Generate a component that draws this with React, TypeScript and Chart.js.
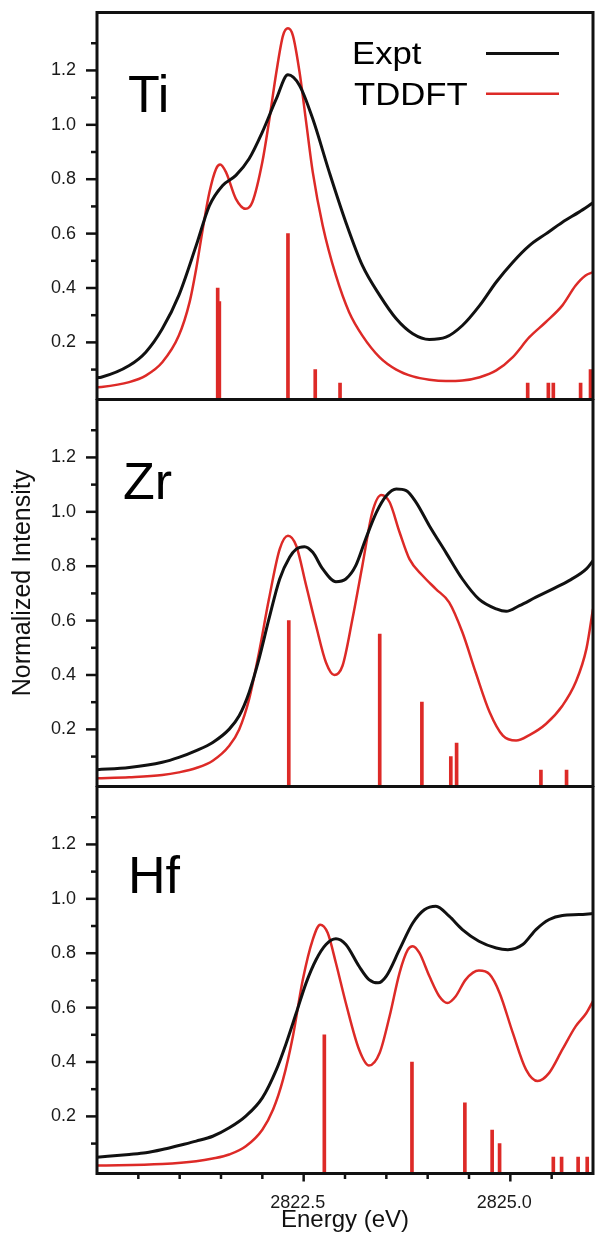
import React, { useEffect, useRef } from 'react';
import { Chart, registerables } from 'chart.js';

Chart.register(...registerables);

type Pt = [number, number];

// ---------- axes ----------
const X_MIN = 2820;
const X_MAX = 2826;
const Y_MIN = -0.01;
const Y_MAX = 1.413;
const X_TICKS = [2820.5, 2821, 2821.5, 2822, 2822.5, 2823, 2823.5, 2824, 2824.5, 2825, 2825.5];
const X_LABELED = [2822.5, 2825.0];
const Y_TICKS = [0.1, 0.2, 0.3, 0.4, 0.5, 0.6, 0.7, 0.8, 0.9, 1.0, 1.1, 1.2, 1.3];
const Y_LABELED = [0.2, 0.4, 0.6, 0.8, 1.0, 1.2];
const X_TITLE = 'Energy (eV)';
const Y_TITLE = 'Normalized Intensity';
const SERIES_NAMES = ['Expt', 'TDDFT'];

// ---------- Ti ----------
const tiExpt: Pt[] = [
  [2820.0, 0.07], [2820.05, 0.072], [2820.39, 0.115], [2820.59, 0.164], [2820.79, 0.25],
  [2820.99, 0.373], [2821.2, 0.556], [2821.36, 0.703], [2821.52, 0.777], [2821.68, 0.814],
  [2821.84, 0.875], [2822.0, 0.973], [2822.17, 1.096], [2822.31, 1.184], [2822.45, 1.145],
  [2822.61, 1.022], [2822.81, 0.826], [2823.01, 0.642], [2823.21, 0.483], [2823.42, 0.373],
  [2823.62, 0.287], [2823.82, 0.232], [2824.02, 0.211], [2824.22, 0.219], [2824.42, 0.262],
  [2824.63, 0.336], [2824.83, 0.422], [2825.03, 0.495], [2825.23, 0.556], [2825.43, 0.599],
  [2825.63, 0.642], [2825.83, 0.679], [2826.0, 0.713],
];
const tiTddft: Pt[] = [
  [2820.0, 0.035], [2820.05, 0.036], [2820.39, 0.054], [2820.59, 0.078], [2820.79, 0.127],
  [2820.99, 0.225], [2821.12, 0.348], [2821.2, 0.471], [2821.28, 0.618], [2821.36, 0.752],
  [2821.44, 0.838], [2821.49, 0.854], [2821.56, 0.826], [2821.68, 0.728], [2821.8, 0.691],
  [2821.88, 0.716], [2822.0, 0.863], [2822.08, 1.01], [2822.17, 1.194], [2822.25, 1.328],
  [2822.31, 1.355], [2822.37, 1.328], [2822.45, 1.194], [2822.53, 1.01], [2822.61, 0.826],
  [2822.73, 0.63], [2822.89, 0.446], [2823.05, 0.311], [2823.21, 0.225], [2823.42, 0.145],
  [2823.62, 0.1], [2823.82, 0.075], [2824.02, 0.063], [2824.22, 0.058], [2824.42, 0.06],
  [2824.63, 0.072], [2824.83, 0.097], [2825.03, 0.146], [2825.23, 0.219], [2825.43, 0.275],
  [2825.63, 0.336], [2825.79, 0.409], [2825.91, 0.446], [2826.0, 0.458],
];
const tiSticks: Pt[] = [
  [2821.46, 0.4], [2821.48, 0.35], [2822.31, 0.6], [2822.64, 0.1], [2822.94, 0.05],
  [2825.21, 0.05], [2825.46, 0.05], [2825.52, 0.05], [2825.85, 0.05], [2825.97, 0.1],
];

// ---------- Zr ----------
const zrExpt: Pt[] = [
  [2820.0, 0.052], [2820.39, 0.06], [2820.79, 0.079], [2820.99, 0.097], [2821.2, 0.122],
  [2821.4, 0.152], [2821.6, 0.201], [2821.72, 0.25], [2821.84, 0.336], [2821.96, 0.459],
  [2822.08, 0.606], [2822.21, 0.753], [2822.33, 0.833], [2822.41, 0.863], [2822.51, 0.872],
  [2822.61, 0.851], [2822.73, 0.79], [2822.89, 0.743], [2823.01, 0.753], [2823.13, 0.802],
  [2823.25, 0.9], [2823.38, 0.998], [2823.5, 1.059], [2823.62, 1.084], [2823.74, 1.078],
  [2823.86, 1.035], [2824.02, 0.949], [2824.22, 0.851], [2824.42, 0.753], [2824.62, 0.679],
  [2824.83, 0.643], [2824.95, 0.634], [2825.11, 0.655], [2825.31, 0.686], [2825.51, 0.716],
  [2825.71, 0.747], [2825.92, 0.79], [2826.0, 0.82],
];
const zrTddft: Pt[] = [
  [2820.0, 0.02], [2820.39, 0.024], [2820.79, 0.032], [2820.99, 0.042], [2821.2, 0.058],
  [2821.4, 0.085], [2821.6, 0.14], [2821.72, 0.2], [2821.84, 0.311], [2821.96, 0.483],
  [2822.08, 0.679], [2822.21, 0.863], [2822.31, 0.912], [2822.41, 0.875], [2822.53, 0.729],
  [2822.65, 0.581], [2822.77, 0.446], [2822.87, 0.4], [2822.97, 0.434], [2823.09, 0.606],
  [2823.21, 0.802], [2823.33, 0.998], [2823.44, 1.062], [2823.54, 1.035], [2823.66, 0.925],
  [2823.78, 0.826], [2823.94, 0.765], [2824.1, 0.716], [2824.26, 0.667], [2824.42, 0.557],
  [2824.58, 0.41], [2824.75, 0.263], [2824.91, 0.177], [2825.07, 0.159], [2825.23, 0.179],
  [2825.43, 0.22], [2825.63, 0.287], [2825.79, 0.373], [2825.92, 0.496], [2826.0, 0.643],
];
const zrSticks: Pt[] = [
  [2822.32, 0.6], [2823.42, 0.55], [2823.93, 0.3], [2824.28, 0.1], [2824.35, 0.15],
  [2825.37, 0.05], [2825.68, 0.05],
];

// ---------- Hf ----------
const hfExpt: Pt[] = [
  [2820.0, 0.05], [2820.39, 0.06], [2820.59, 0.066], [2820.79, 0.078], [2820.99, 0.093],
  [2821.2, 0.109], [2821.4, 0.127], [2821.6, 0.158], [2821.8, 0.201], [2822.0, 0.268],
  [2822.17, 0.372], [2822.29, 0.47], [2822.41, 0.58], [2822.53, 0.691], [2822.65, 0.776],
  [2822.77, 0.832], [2822.89, 0.853], [2823.01, 0.832], [2823.17, 0.752], [2823.29, 0.703],
  [2823.4, 0.691], [2823.5, 0.716], [2823.66, 0.814], [2823.82, 0.911], [2823.96, 0.96],
  [2824.1, 0.973], [2824.26, 0.936], [2824.42, 0.887], [2824.62, 0.844], [2824.83, 0.819],
  [2824.97, 0.813], [2825.15, 0.832], [2825.31, 0.887], [2825.47, 0.924], [2825.63, 0.939],
  [2825.83, 0.942], [2826.0, 0.946],
];
const hfTddft: Pt[] = [
  [2820.0, 0.019], [2820.79, 0.025], [2821.2, 0.035], [2821.4, 0.045], [2821.6, 0.06],
  [2821.8, 0.09], [2822.0, 0.151], [2822.13, 0.225], [2822.25, 0.335], [2822.37, 0.495],
  [2822.49, 0.703], [2822.61, 0.85], [2822.7, 0.905], [2822.79, 0.875], [2822.89, 0.764],
  [2823.01, 0.617], [2823.17, 0.446], [2823.29, 0.387], [2823.42, 0.434], [2823.54, 0.569],
  [2823.66, 0.728], [2823.76, 0.813], [2823.82, 0.826], [2823.9, 0.801], [2824.02, 0.716],
  [2824.14, 0.642], [2824.24, 0.617], [2824.34, 0.642], [2824.46, 0.703], [2824.62, 0.736],
  [2824.75, 0.722], [2824.87, 0.654], [2825.03, 0.507], [2825.19, 0.372], [2825.33, 0.33],
  [2825.47, 0.36], [2825.63, 0.446], [2825.79, 0.531], [2825.92, 0.58], [2826.0, 0.624],
];
const hfSticks: Pt[] = [
  [2822.75, 0.5], [2823.81, 0.4], [2824.45, 0.25], [2824.78, 0.15], [2824.87, 0.1],
  [2825.52, 0.05], [2825.62, 0.05], [2825.82, 0.05], [2825.93, 0.05],
];

const PANELS = [
  { name: 'Ti', expt: tiExpt, tddft: tiTddft, sticks: tiSticks },
  { name: 'Zr', expt: zrExpt, tddft: zrTddft, sticks: zrSticks },
  { name: 'Hf', expt: hfExpt, tddft: hfTddft, sticks: hfSticks },
];

// ---------- layout & style ----------
const W = 596;
const PAGE_H = 1233;
const FONT = '"Liberation Sans", Arial, Helvetica, sans-serif';
const BLACK = '#111111';
const RED = '#dd2a27';
const LAYOUT = [
  { top: 0, height: 400, padTop: 12.5, padBottom: 0.5, showX: false, labelX: 128, labelY: 112, legend: true, yTitle: false },
  { top: 399, height: 388, padTop: 0.5, padBottom: 0.5, showX: false, labelX: 123, labelY: 100, legend: false, yTitle: true },
  { top: 786, height: 450, padTop: 0.5, padBottom: 0, showX: true, labelX: 128, labelY: 107, legend: false, yTitle: false },
];

const near = (arr: number[], v: number) => arr.some((a) => Math.abs(a - v) < 1e-6);

function makeDecor(idx: number) {
  const L = LAYOUT[idx];
  const P = PANELS[idx];
  return {
    id: 'decor' + idx,
    afterDraw(chart: any) {
      const { ctx, chartArea: a, scales } = chart;
      ctx.save();
      ctx.strokeStyle = BLACK;
      ctx.lineCap = 'butt';
      // y tick marks
      ctx.lineWidth = 2.5;
      const ys = scales.y;
      ys.ticks.forEach((t: any) => {
        const py = ys.getPixelForValue(t.value);
        const len = near(Y_LABELED, t.value) ? 11 : 6;
        ctx.beginPath();
        ctx.moveTo(a.left - len, py);
        ctx.lineTo(a.left, py);
        ctx.stroke();
      });
      if (L.showX) {
        const xs = scales.x;
        xs.ticks.forEach((t: any) => {
          const px = xs.getPixelForValue(t.value);
          const len = near(X_LABELED, t.value) ? 8 : 5.5;
          ctx.beginPath();
          ctx.moveTo(px, a.bottom);
          ctx.lineTo(px, a.bottom + len);
          ctx.stroke();
        });
      }
      // frame
      ctx.lineWidth = 3;
      ctx.strokeRect(a.left, a.top, a.right - a.left, a.bottom - a.top);
      // panel label
      ctx.fillStyle = '#000';
      ctx.textAlign = 'left';
      ctx.textBaseline = 'alphabetic';
      ctx.font = `52px ${FONT}`;
      ctx.fillText(P.name, L.labelX, L.labelY);
      // legend
      if (L.legend) {
        ctx.font = `31px ${FONT}`;
        const rows = [
          { text: SERIES_NAMES[0], x: 352, base: 63.7, ly: 53.5, color: BLACK, lw: 3 },
          { text: SERIES_NAMES[1], x: 354, base: 105.3, ly: 93.7, color: RED, lw: 2.6 },
        ];
        rows.forEach((r) => {
          ctx.save();
          ctx.translate(r.x, r.base);
          ctx.scale(1.12, 1);
          ctx.fillStyle = '#000';
          ctx.fillText(r.text, 0, 0);
          ctx.restore();
          ctx.strokeStyle = r.color;
          ctx.lineWidth = r.lw;
          ctx.beginPath();
          ctx.moveTo(486, r.ly);
          ctx.lineTo(559, r.ly);
          ctx.stroke();
        });
      }
      // y axis title
      if (L.yTitle) {
        ctx.save();
        ctx.translate(23, 583 - L.top);
        ctx.rotate(-Math.PI / 2);
        ctx.textAlign = 'center';
        ctx.textBaseline = 'middle';
        ctx.fillStyle = '#111';
        ctx.font = `25px ${FONT}`;
        ctx.fillText(Y_TITLE, 0, 0);
        ctx.restore();
      }
      ctx.restore();
    },
  };
}

function Panel({ idx }: { idx: number }) {
  const ref = useRef<HTMLCanvasElement>(null);
  const L = LAYOUT[idx];
  useEffect(() => {
    const P = PANELS[idx];
    const toXY = (arr: Pt[]) => arr.map(([x, y]) => ({ x, y }));
    const chart = new Chart(ref.current as HTMLCanvasElement, {
      type: 'line',
      data: {
        datasets: [
          {
            type: 'line',
            label: SERIES_NAMES[0],
            data: toXY(P.expt),
            borderColor: BLACK,
            borderWidth: 3,
            pointRadius: 0,
            fill: false,
            cubicInterpolationMode: 'monotone',
          },
          {
            type: 'line',
            label: SERIES_NAMES[1],
            data: toXY(P.tddft),
            borderColor: RED,
            borderWidth: 2.5,
            pointRadius: 0,
            fill: false,
            cubicInterpolationMode: 'monotone',
          },
          {
            type: 'bar',
            label: 'TDDFT transitions',
            data: toXY(P.sticks),
            backgroundColor: RED,
            borderWidth: 0,
            barThickness: 3,
            base: Y_MIN,
            grouped: false,
          } as any,
        ],
      },
      options: {
        responsive: false,
        animation: false,
        events: [],
        layout: { padding: { left: 0, right: 3, top: L.padTop, bottom: L.padBottom } },
        plugins: { legend: { display: false }, tooltip: { enabled: false } },
        scales: {
          x: {
            type: 'linear',
            min: X_MIN,
            max: X_MAX,
            display: L.showX,
            position: 'bottom',
            offset: false,
            grid: { display: false, drawTicks: false, offset: false },
            border: { display: false },
            afterBuildTicks: (s: any) => {
              s.ticks = X_TICKS.map((v) => ({ value: v }));
            },
            afterFit: (s: any) => {
              s.height = L.showX ? 62.5 : 0;
              s.paddingLeft = 0;
              s.paddingRight = 0;
            },
            ticks: {
              autoSkip: false,
              maxRotation: 0,
              minRotation: 0,
              padding: 19,
              labelOffset: -6,
              color: '#1a1a1a',
              font: { family: FONT, size: 18 },
              callback: (v: any) => (near(X_LABELED, Number(v)) ? Number(v).toFixed(1) : ''),
            },
            title: {
              display: L.showX,
              text: X_TITLE,
              color: '#111',
              font: { family: FONT, size: 24 },
              padding: { top: 0, bottom: 1.6 },
            },
          } as any,
          y: {
            type: 'linear',
            min: Y_MIN,
            max: Y_MAX,
            position: 'left',
            grid: { display: false, drawTicks: false },
            border: { display: false },
            afterBuildTicks: (s: any) => {
              s.ticks = Y_TICKS.map((v) => ({ value: v }));
            },
            afterFit: (s: any) => {
              s.width = 97;
              s.paddingTop = 0;
              s.paddingBottom = 0;
            },
            ticks: {
              autoSkip: false,
              padding: 21,
              color: '#1a1a1a',
              font: { family: FONT, size: 18 },
              callback: (v: any) => (near(Y_LABELED, Number(v)) ? Number(v).toFixed(1) : ''),
            },
          } as any,
        },
      },
      plugins: [makeDecor(idx)],
    } as any);
    return () => chart.destroy();
  }, [idx]);
  return (
    <canvas
      ref={ref}
      width={W}
      height={L.height}
      style={{ position: 'absolute', left: 0, top: L.top, width: W, height: L.height, display: 'block' }}
    />
  );
}

export default function App() {
  return (
    <div
      style={{
        position: 'fixed',
        left: 0,
        top: 0,
        width: W,
        height: PAGE_H,
        overflow: 'hidden',
        background: '#ffffff',
      }}
    >
      {PANELS.map((_, i) => (
        <Panel key={i} idx={i} />
      ))}
    </div>
  );
}
